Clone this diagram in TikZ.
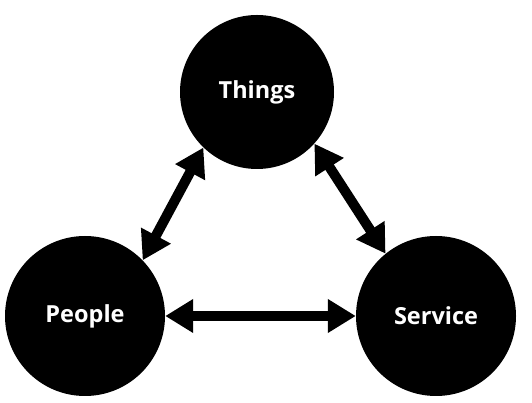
\documentclass[tikz,border=0pt]{standalone}
\usepackage{fontspec}
\setmainfont{Open Sans}
\usetikzlibrary{arrows.meta}
\begin{document}
\begin{tikzpicture}[x=1pt,y=1pt,
  ball/.style={circle,fill=black,inner sep=0pt,minimum size=#1,text=white,font=\fontsize{23.5}{28}\selectfont\bfseries},
  link/.style={line width=10pt,{Triangle[width=32pt,length=28pt]}-{Triangle[width=32pt,length=28pt]}}]
\useasboundingbox (0,0) rectangle (532,403);
\node[ball=154pt] (T) at (257,311) {Things};
\node[ball=160pt] (P) at (85,87) {People};
\node[ball=160pt] (S) at (436,87) {Service};
\draw[link] (T.226) -- (P.44);
\draw[link] (T.318) -- (S.129);
\draw[link] (P.east) -- (S.west);
\end{tikzpicture}
\end{document}
